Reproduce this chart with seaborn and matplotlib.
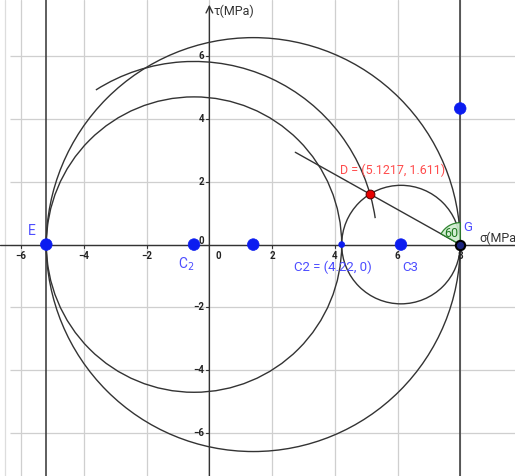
import matplotlib
matplotlib.use('Agg')
import matplotlib.pyplot as plt
import numpy as np
import pandas as pd
import seaborn as sns
from matplotlib.patches import Arc, Circle, Wedge

sns.set_theme(style='white')
plt.rcParams['font.family'] = ['Roboto', 'DejaVu Sans']

# Points on the sigma axis (and one above G)
POINT_NAMES = ['E', 'C_2', 'C', 'C2', 'C3', 'G', 'H']
POINT_X = [-5.2, -0.49, 1.4, 4.22, 6.11, 8.0, 8.0]
POINT_Y = [0.0, 0.0, 0.0, 0.0, 0.0, 0.0, 4.34]
POINT_SIZE = [70, 70, 70, 18, 70, 0, 70]

# Mohr circles (center on sigma axis, radius)
CIRCLE_CENTERS = [1.4, -0.49, 6.11]
CIRCLE_RADII = [6.6, 4.71, 1.89]

# Arc centred on C_2 through D
ARC_CENTER = -0.49
ARC_RADIUS = 5.84
ARC_ANGLES = (8.3, 122.4)

D_POINT = (5.1217, 1.611)
G_POINT = (8.0, 0.0)
LINE_END_X = 2.74
ANGLE_DEG = 60
VERTICAL_LINES = [-5.2, 8.0]

XLIM = (-6.67, 9.74)
YLIM = (-7.38, 7.80)
GRID_TICKS = [-6, -4, -2, 0, 2, 4, 6, 8]

LINE_COLOR = '#333333'
BLUE = '#0b1cf0'
LABEL_BLUE = '#4d4dff'
RED_LABEL = '#ff4d4d'


def main() -> None:
    fig = plt.figure(figsize=(5.15, 4.76), dpi=100)
    ax = fig.add_axes([0, 0, 1, 1])
    ax.set_xlim(*XLIM)
    ax.set_ylim(*YLIM)
    ax.set_aspect('equal')
    ax.axis('off')

    # grid (starts a little in from the left border, like the screenshot)
    for t in GRID_TICKS:
        ax.axvline(t, color='#cfcfcf', lw=0.9, zorder=0)
        if -7 < t < 8:
            ax.hlines(t, -6.35, XLIM[1], color='#cfcfcf', lw=0.9, zorder=0)
    ax.axvline(-6.52, color='#dddddd', lw=0.9, zorder=0)

    # axes with arrows
    ax.axhline(0, color=LINE_COLOR, lw=1.0, zorder=1)
    ax.annotate('', xy=(0, 7.65), xytext=(0, YLIM[0]),
                arrowprops=dict(arrowstyle='->', color=LINE_COLOR, lw=1.0,
                                shrinkA=0, shrinkB=0), zorder=1)
    for t in GRID_TICKS:
        if t != 0:
            ax.plot([t, t], [0, -0.1], color=LINE_COLOR, lw=0.8)
            ax.text(t, -0.2, f'{t}'.replace('-', '\u2212'), ha='center', va='top',
                    fontsize=7, color='#222222', fontweight='bold')
        if -7 < t < 7 and t != 0:
            ax.plot([-0.1, 0], [t, t], color=LINE_COLOR, lw=0.8)
            ax.text(-0.17, t, f'{t}'.replace('-', '\u2212'), ha='right', va='center',
                    fontsize=7, color='#222222', fontweight='bold')
    ax.text(-0.17, 0.12, '0', ha='right', va='center', fontsize=7,
            color='#222222', fontweight='bold')
    ax.text(0.2, -0.2, '0', ha='left', va='top', fontsize=7,
            color='#222222', fontweight='bold')
    ax.text(0.12, 7.45, '\u03c4(MPa)', ha='left', va='center', fontsize=9, color='#333333')
    ax.text(8.6, 0.2, '\u03c3(MPa', ha='left', va='center', fontsize=9, color='#333333')

    # vertical lines through E and G
    for x in VERTICAL_LINES:
        ax.axvline(x, color=LINE_COLOR, lw=1.1, zorder=2)

    # circles
    for c, r in zip(CIRCLE_CENTERS, CIRCLE_RADII):
        ax.add_patch(Circle((c, 0), r, fill=False, ec=LINE_COLOR, lw=1.0, zorder=2))
    ax.add_patch(Arc((ARC_CENTER, 0), 2 * ARC_RADIUS, 2 * ARC_RADIUS,
                     theta1=ARC_ANGLES[0], theta2=ARC_ANGLES[1],
                     ec=LINE_COLOR, lw=1.0, zorder=2))

    # line from G through D
    gx, gy = G_POINT
    dx, dy = D_POINT
    t_end = (gx - LINE_END_X) / (gx - dx)
    ax.plot([gx, gx + t_end * (dx - gx)], [gy, gy + t_end * (dy - gy)],
            color=LINE_COLOR, lw=1.0, zorder=2)

    # angle marker at G
    line_angle = np.degrees(np.arctan2(dy - gy, dx - gx))
    ax.add_patch(Wedge((gx, gy), 0.7, 90, line_angle, fc='#cfeccf', ec='#1e7a1e',
                       lw=0.9, alpha=0.9, zorder=3))
    ax.text(7.72, 0.34, f'{ANGLE_DEG}', ha='center', va='center', fontsize=9,
            color='#1e7a1e', zorder=4)

    # points
    points = pd.DataFrame({'name': POINT_NAMES, 'x': POINT_X, 'y': POINT_Y, 'size': POINT_SIZE})
    shown = points[points['size'] > 0]
    sns.scatterplot(data=shown, x='x', y='y', size='size', sizes=(18, 70),
                    color=BLUE, edgecolor=BLUE, linewidth=0.5, legend=False,
                    ax=ax, zorder=5)
    ax.scatter([gx], [gy], s=45, c='#1a237e', edgecolors='black', linewidths=1.5, zorder=6)
    ax.scatter([dx], [dy], s=40, c='#e60000', edgecolors='#550000', linewidths=0.7, zorder=6)

    # labels
    ax.text(-5.65, 0.42, 'E', ha='center', va='center', fontsize=10, color=LABEL_BLUE)
    ax.text(-0.74, -0.62, r'C$_2$', ha='center', va='center', fontsize=10, color=LABEL_BLUE)
    ax.text(3.94, -0.72, 'C2 = (4.22, 0)', ha='center', va='center', fontsize=9.5,
            color=LABEL_BLUE)
    ax.text(6.42, -0.72, 'C3', ha='center', va='center', fontsize=9.5, color=LABEL_BLUE)
    ax.text(8.24, 0.54, 'G', ha='center', va='center', fontsize=9.5, color=LABEL_BLUE)
    ax.text(5.85, 2.37, f'D = ({D_POINT[0]}, {D_POINT[1]})', ha='center', va='center',
            fontsize=9, color=RED_LABEL)

    fig.savefig('out.png', dpi=100)


if __name__ == '__main__':
    main()
